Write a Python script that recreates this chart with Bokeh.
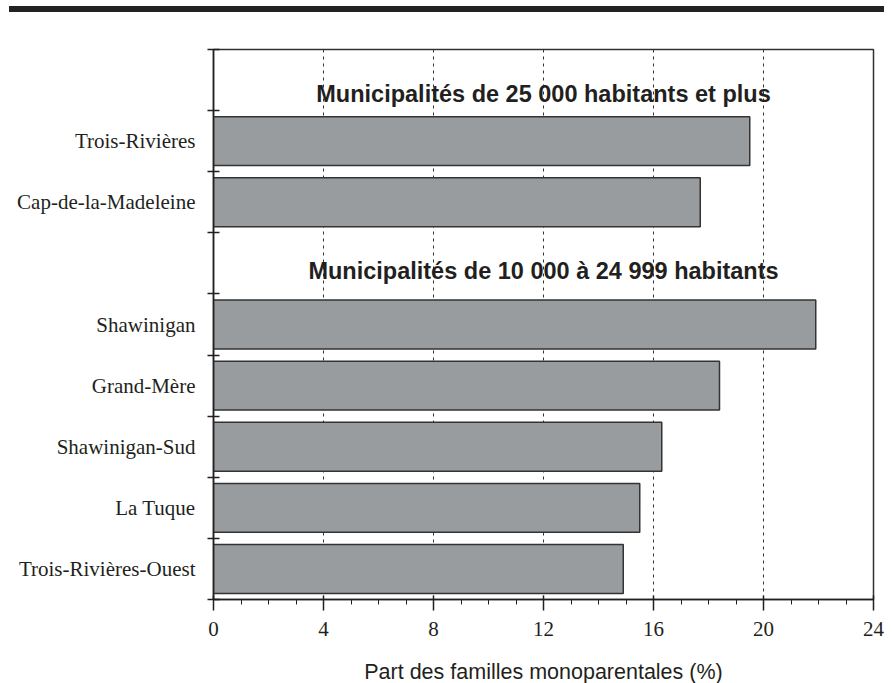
from bokeh.plotting import figure
from bokeh.layouts import column
from bokeh.models import Range1d, FixedTicker, SingleIntervalTicker, ColumnDataSource, Div
from bokeh.core.properties import value
from bokeh.embed import file_html
from bokeh.resources import INLINE

# ---- data ----
headers = ["Municipalités de 25 000 habitants et plus",
           "Municipalités de 10 000 à 24 999 habitants"]
group1 = ["Trois-Rivières", "Cap-de-la-Madeleine"]
values1 = [19.5, 17.7]
group2 = ["Shawinigan", "Grand-Mère", "Shawinigan-Sud", "La Tuque", "Trois-Rivières-Ouest"]
values2 = [21.9, 18.4, 16.3, 15.5, 14.9]

# slot layout (top to bottom): header, group rows, header, group rows
groups = [(headers[0], group1, values1), (headers[1], group2, values2)]
names, vals, ys = [], [], []
head_slots = []
slot = 0
for h, g, v in groups:
    head_slots.append(slot)
    slot += 1
    for n, val in zip(g, v):
        names.append(n)
        vals.append(val)
        ys.append(slot + 0.5)
        slot += 1
n_slots = slot

ink = "#231f20"

# top black rule (decorative band)
rule = Div(width=884, height=12,
           text='<div style="margin:6px 0 0 9px;width:875px;height:6px;background:#222222;"></div>',
           styles={"margin": "0", "padding": "0"})

p = figure(output_backend="svg", toolbar_location=None,
           frame_width=660, frame_height=550,
           min_border_left=213, min_border_right=11,
           min_border_top=37, min_border_bottom=70,
           x_range=Range1d(0, 24), y_range=Range1d(n_slots, 0),
           background_fill_color="white", border_fill_color="white")

p.outline_line_color = "#333333"
p.outline_line_width = 1.5

# x grid
p.xgrid.grid_line_color = "#333333"
p.xgrid.grid_line_dash = "3 4"
p.xgrid.grid_line_width = 1
p.ygrid.grid_line_color = None

src = ColumnDataSource(dict(y=ys, v=vals, name=names))
p.hbar(y="y", left=0, right="v", height=0.8, source=src,
       fill_color="#999c9f", line_color="#333333", line_width=1.5)

# headers
hx = [12] * len(headers)
hy = [head_slots[0] + 0.73, head_slots[1] + 0.62]
p.text(x=hx, y=hy, text=headers, text_align="center", text_baseline="alphabetic",
       text_font=value("Liberation Sans"), text_font_style="bold",
       text_font_size="23.5px", text_color=ink)

# x axis
xa = p.xaxis[0]
xa.ticker = SingleIntervalTicker(interval=4, num_minor_ticks=4)
xa.axis_line_color = ink
xa.axis_line_width = 1.5
xa.major_tick_line_color = ink
xa.major_tick_line_width = 1.5
xa.major_tick_in = 4
xa.major_tick_out = 11
xa.minor_tick_line_color = ink
xa.minor_tick_line_width = 1
xa.minor_tick_in = 0
xa.minor_tick_out = 5
xa.major_label_text_font = "Liberation Serif"
xa.major_label_text_font_size = "21px"
xa.major_label_text_color = ink
xa.major_label_standoff = 11
xa.axis_label = "Part des familles monoparentales (%)"
xa.axis_label_text_font = "Liberation Sans"
xa.axis_label_text_font_style = "normal"
xa.axis_label_text_font_size = "21.5px"
xa.axis_label_text_color = ink
xa.axis_label_standoff = 21

# y axis
ya = p.yaxis[0]
ya.ticker = FixedTicker(ticks=ys, minor_ticks=list(range(n_slots + 1)))
ya.major_label_overrides = {y: n for y, n in zip(ys, names)}
ya.axis_line_color = ink
ya.axis_line_width = 1.5
ya.major_tick_line_color = None
ya.major_tick_in = 0
ya.major_tick_out = 0
ya.minor_tick_line_color = ink
ya.minor_tick_line_width = 1.5
ya.minor_tick_in = 6
ya.minor_tick_out = 6
ya.major_label_text_font = "Liberation Serif"
ya.major_label_text_font_size = "21px"
ya.major_label_text_color = ink
ya.major_label_standoff = 12

layout = column(rule, p, spacing=0)
open("out.html", "w").write(file_html(layout, INLINE))
